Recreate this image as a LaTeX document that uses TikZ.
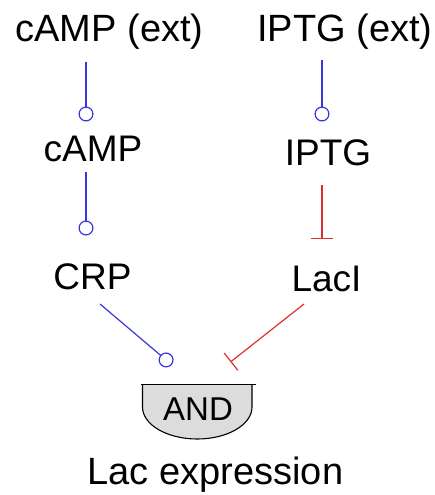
\documentclass[tikz,border=0pt]{standalone}
\usepackage{fontspec}
\setmainfont{Liberation Sans}
\usetikzlibrary{arrows.meta}
\definecolor{actblue}{RGB}{55,55,220}
\definecolor{repred}{RGB}{225,45,45}
\definecolor{gatefill}{RGB}{220,220,220}
\begin{document}
\begin{tikzpicture}[x=1pt,y=-1pt,
  lbl/.style={anchor=base, inner sep=0pt, font=\fontsize{37}{40}\selectfont},
  toplbl/.style={anchor=base, inner sep=0pt, font=\fontsize{38}{40}\selectfont},
  act/.style={draw=actblue, line width=1.2pt, -{Circle[open,length=15pt,width=15pt,line width=1.2pt]}},
  rep/.style={draw=repred, line width=1.2pt, -{Bar[width=22pt,line width=1.2pt]}}]
\useasboundingbox (0,0) rectangle (435,495);

% labels
\node[toplbl] (cext) at (109.5,42) {cAMP (ext)};
\node[toplbl] (iext) at (345,42) {IPTG (ext)};
\node[lbl] (camp) at (93,161) {cAMP};
\node[lbl] (crp) at (92.5,289) {CRP};
\node[lbl] (iptg) at (328,165) {IPTG};
\node[lbl] (laci) at (326.5,291) {LacI};

% AND gate
\path[fill=gatefill, draw=black, line width=1.1pt] (142.5,385) -- (142.5,407)
  arc[start angle=180, end angle=360, x radius=54.75pt, y radius=32pt] -- (252,385);
\draw[line width=1.4pt] (141,384.5) -- (256,384.5);
\node[anchor=base, inner sep=0pt, font=\fontsize{33}{36}\selectfont] (and) at (198,420) {AND};
\node[anchor=base, inner sep=0pt, font=\fontsize{38}{40}\selectfont] (lacexp) at (215.5,484) {Lac expression};

% connector ends
\coordinate (c1a) at (86,62);   \coordinate (c1b) at (86,121.5);
\coordinate (c2a) at (86,172);  \coordinate (c2b) at (86,235.5);
\coordinate (c3a) at (100,304); \coordinate (c3b) at (171.8,364.8);
\coordinate (i1a) at (322,60);  \coordinate (i1b) at (322,121.5);
\coordinate (i2a) at (322,185); \coordinate (i2b) at (322,239);
\coordinate (l1a) at (304,304); \coordinate (l1b) at (230.5,362);

\draw[act] (c1a) -- (c1b);
\draw[act] (c2a) -- (c2b);
\draw[act] (c3a) -- (c3b);
\draw[act] (i1a) -- (i1b);
\draw[rep] (i2a) -- (i2b);
\draw[rep] (l1a) -- (l1b);
\end{tikzpicture}
\end{document}
